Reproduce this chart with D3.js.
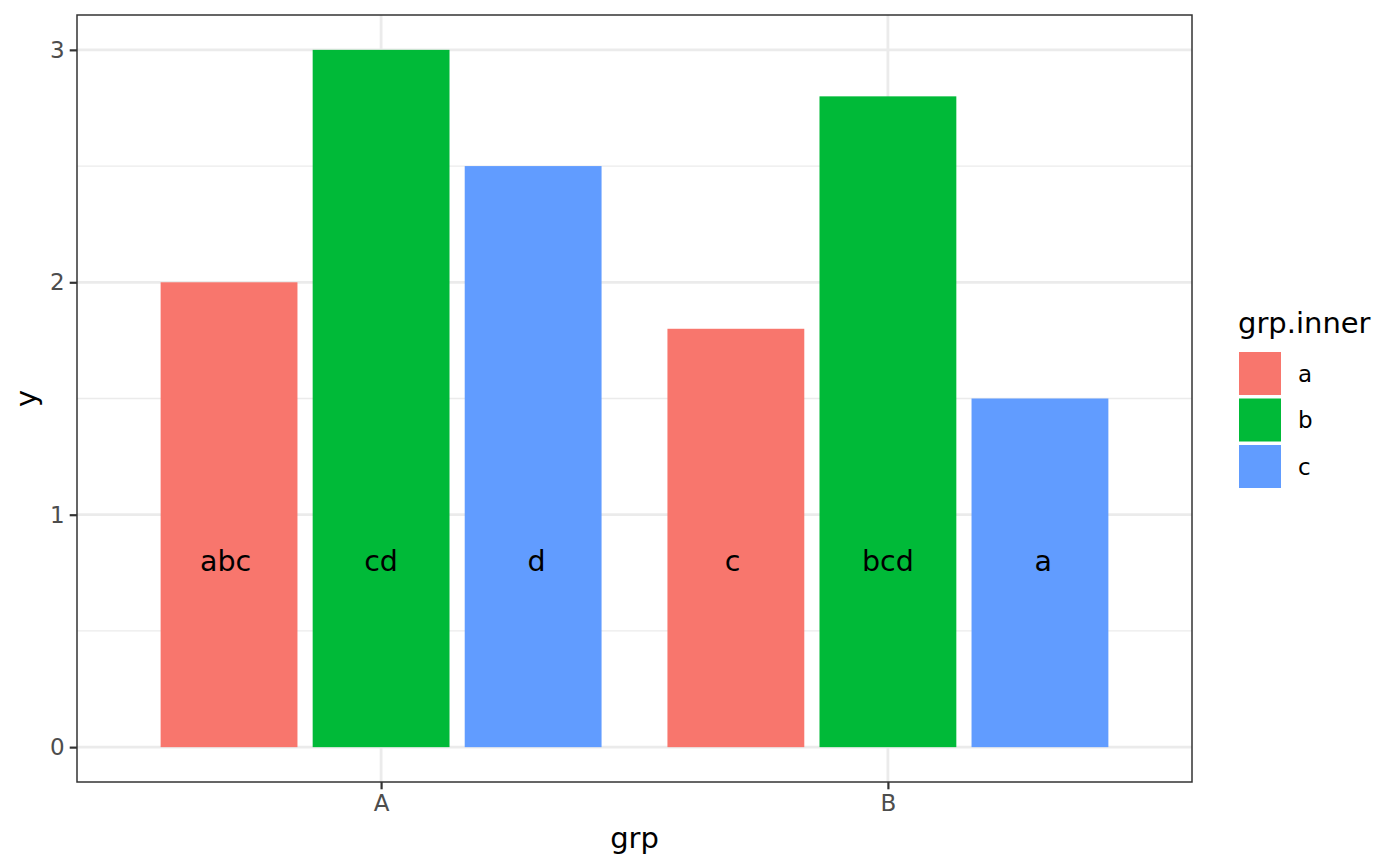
<!DOCTYPE html>
<html>
<head>
<meta charset="utf-8">
<script src="https://cdn.jsdelivr.net/npm/d3@7/dist/d3.min.js"></script>
<style>
  body { margin: 0; background: #fff; }
  text { font-family: "DejaVu Sans", sans-serif; }
</style>
</head>
<body>
<script>
// Data
const groups = ["A", "B"];
const inner = ["a", "b", "c"];
const valuesA = [2, 3, 2.5];
const valuesB = [1.8, 2.8, 1.5];
const labelsA = ["abc", "cd", "d"];
const labelsB = ["c", "bcd", "a"];
const labelY = 0.8;
const yTicks = [0, 1, 2, 3];
const colors = ["#F8766D", "#00BA38", "#619CFF"];

// Layout
const w = 1400;
const h = 866;
const panel = { left: 77, top: 15, right: 1192, bottom: 782 };

const rows = [];
groups.forEach((g, gi) => {
  const vals = gi === 0 ? valuesA : valuesB;
  const labs = gi === 0 ? labelsA : labelsB;
  inner.forEach((k, ki) => {
    rows.push({ grp: g, inner: k, y: vals[ki], label: labs[ki] });
  });
});

const svg = d3.select('body')
  .append('svg')
  .attr('width', w)
  .attr('height', h);

// Scales
const xScale = d3.scalePoint()
  .domain(groups)
  .range([panel.left, panel.right])
  .padding(0.6);

const step = xScale.step();

// bars are dodged with padding, labels with plain dodge
const innerScale = d3.scaleBand()
  .domain(inner)
  .range([-0.45 * step, 0.45 * step])
  .paddingInner(0.1)
  .paddingOuter(0.05);

const labelScale = d3.scaleBand()
  .domain(inner)
  .range([-0.46 * step, 0.46 * step]);

const yScale = d3.scaleLinear()
  .domain([-0.15, 3.15])
  .range([panel.bottom, panel.top]);

const color = d3.scaleOrdinal().domain(inner).range(colors);

// Grid
const grid = svg.append('g');
d3.range(0.5, 3, 1).forEach(v => {
  grid.append('line')
    .attr('x1', panel.left).attr('x2', panel.right)
    .attr('y1', yScale(v)).attr('y2', yScale(v))
    .attr('stroke', '#EBEBEB').attr('stroke-width', 1.4);
});
yTicks.forEach(v => {
  grid.append('line')
    .attr('x1', panel.left).attr('x2', panel.right)
    .attr('y1', yScale(v)).attr('y2', yScale(v))
    .attr('stroke', '#EBEBEB').attr('stroke-width', 2.8);
});
groups.forEach(g => {
  grid.append('line')
    .attr('x1', xScale(g)).attr('x2', xScale(g))
    .attr('y1', panel.top).attr('y2', panel.bottom)
    .attr('stroke', '#EBEBEB').attr('stroke-width', 2.8);
});

// Bars
svg.selectAll('rect.bar')
  .data(rows)
  .enter()
  .append('rect')
  .attr('class', 'bar')
  .attr('x', d => xScale(d.grp) + innerScale(d.inner))
  .attr('width', innerScale.bandwidth())
  .attr('y', d => yScale(d.y))
  .attr('height', d => yScale(0) - yScale(d.y))
  .attr('fill', d => color(d.inner));

// Bar labels
svg.selectAll('text.lab')
  .data(rows)
  .enter()
  .append('text')
  .attr('class', 'lab')
  .attr('x', d => xScale(d.grp) + labelScale(d.inner) + labelScale.bandwidth() / 2)
  .attr('y', yScale(labelY))
  .attr('dy', '0.35em')
  .attr('text-anchor', 'middle')
  .attr('font-size', 28.5)
  .attr('fill', '#000')
  .text(d => d.label);

// Panel border
svg.append('rect')
  .attr('x', panel.left).attr('y', panel.top)
  .attr('width', panel.right - panel.left)
  .attr('height', panel.bottom - panel.top)
  .attr('fill', 'none')
  .attr('stroke', '#333333')
  .attr('stroke-width', 1.5);

// Axes
const xAxis = d3.axisBottom(xScale).tickSize(7.3).tickPadding(5);
const yAxis = d3.axisLeft(yScale).tickValues(yTicks).tickSize(7.3).tickPadding(5)
  .tickFormat(d3.format('d'));

const gx = svg.append('g')
  .attr('transform', 'translate(0,' + panel.bottom + ')')
  .call(xAxis);
const gy = svg.append('g')
  .attr('transform', 'translate(' + panel.left + ',0)')
  .call(yAxis);

[gx, gy].forEach(g => {
  g.select('.domain').remove();
  g.selectAll('.tick line').attr('stroke', '#333333').attr('stroke-width', 2.2);
  g.selectAll('.tick text')
    .attr('fill', '#4D4D4D')
    .attr('font-size', 23)
    .attr('font-family', '"DejaVu Sans", sans-serif');
});

// Axis titles
svg.append('text')
  .attr('x', (panel.left + panel.right) / 2)
  .attr('y', 848)
  .attr('text-anchor', 'middle')
  .attr('font-size', 29)
  .text('grp');

svg.append('text')
  .attr('transform', 'translate(' + 36 + ',' + (panel.top + panel.bottom) / 2 + ') rotate(-90)')
  .attr('text-anchor', 'middle')
  .attr('font-size', 29)
  .text('y');

// Legend
const legend = svg.append('g').attr('transform', 'translate(1238,0)');
legend.append('text')
  .attr('x', 0)
  .attr('y', 333)
  .attr('font-size', 29)
  .text('grp.inner');

inner.forEach((k, i) => {
  const top = 350.5 + i * 46.5;
  legend.append('rect')
    .attr('x', 1).attr('y', top + 1.5)
    .attr('width', 42).attr('height', 43)
    .attr('fill', color(k));
  legend.append('text')
    .attr('x', 60)
    .attr('y', top + 23)
    .attr('dy', '0.35em')
    .attr('font-size', 23)
    .text(k);
});
</script>
</body>
</html>
